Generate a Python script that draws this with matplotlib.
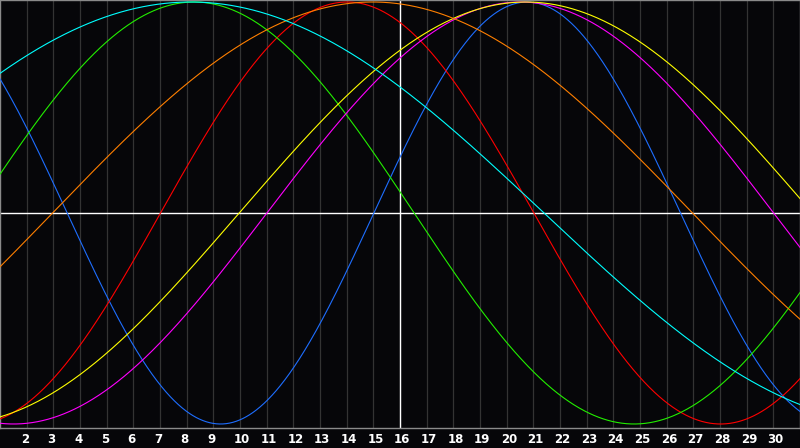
import numpy as np
import matplotlib
matplotlib.use("Agg")
import matplotlib.pyplot as plt
from matplotlib.transforms import offset_copy

# Cycle data
cycle_names = ["physical", "emotional", "intellectual", "intuitive",
               "aesthetic", "awareness", "spiritual"]
periods = [23, 28, 33, 38, 43, 48, 53]
peak_days = [20.77, 14.02, 8.28, 20.51, 20.72, 14.97, 8.15]
colors = ["#1e6eff", "#ff0000", "#22ee00", "#ff00ff", "#ffff00", "#ff7f00", "#00ffff"]

day_labels = list(range(2, 31))
first_day, last_day = 1, 31
today = 16

W, H = 800, 448
fig = plt.figure(figsize=(W / 100, H / 100), dpi=100)
fig.patch.set_facecolor("#060609")
ax = fig.add_axes([0, 20 / H, 1, 428 / H])
ax.set_facecolor("#060609")

d = np.linspace(first_day, last_day, 1200)
for P, pk, c in zip(periods, peak_days, colors):
    ax.plot(d, np.cos(2 * np.pi * (d - pk) / P), color=c, lw=0.8, zorder=3)

for k in day_labels:
    ax.axvline(k, color="#333333", lw=0.9, zorder=1)
ax.axhline(0, color="#ffffff", lw=1.0, zorder=2)
ax.axvline(today, color="#ffffff", lw=1.0, zorder=2)

ax.set_xlim(first_day, last_day)
ax.set_ylim(-215 / 211, 213 / 211)
ax.set_xticks([])
ax.set_yticks([])
for s in ax.spines.values():
    s.set_color("#8a8a8a")
    s.set_linewidth(1.0)

trans = offset_copy(ax.get_xaxis_transform(), fig=fig, x=-6, y=0, units="dots")
for k in day_labels:
    ax.text(k, -11 / 428, str(k), transform=trans, ha="left", va="center",
            color="white", fontsize=8.5, fontweight="bold",
            family="DejaVu Sans", clip_on=False)

fig.savefig("out.png", dpi=100, facecolor=fig.get_facecolor())
